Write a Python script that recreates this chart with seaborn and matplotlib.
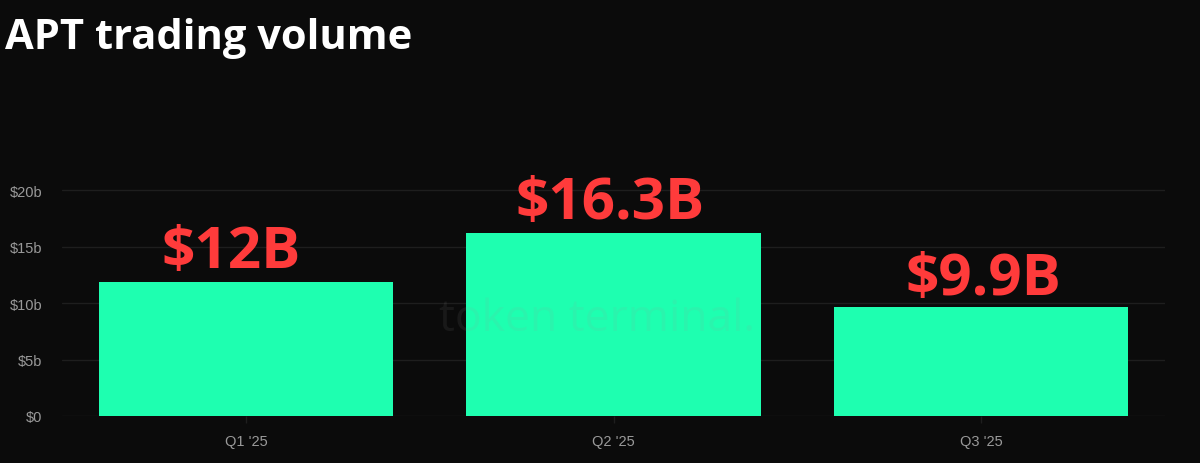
"""
APT trading volume by quarter - bar chart
"""

import pandas as pd
import matplotlib.pyplot as plt
import seaborn as sns

# Data
quarters = ["Q1 '25", "Q2 '25", "Q3 '25"]
volume_b = [11.9, 16.2, 9.7]
value_labels = ["$12B", "$16.3B", "$9.9B"]
y_ticks = [0, 5, 10, 15, 20]
y_tick_labels = ["$0", "$5b", "$10b", "$15b", "$20b"]

BG = "#0b0b0b"
BAR = "#1effb0"
GRID = "#1e1e1e"
TICK = "#9a9a9a"
RED = "#ff3b3b"

sns.set_theme(style="dark")
plt.rcParams['font.family'] = ['Open Sans', 'DejaVu Sans']

df = pd.DataFrame({"quarter": quarters, "volume": volume_b})

fig = plt.figure(figsize=(12, 4.64), dpi=100, facecolor=BG)
ax = fig.add_axes([0.0517, 0.1013, 0.9192, 0.5108])
ax.set_facecolor(BG)

sns.barplot(data=df, x="quarter", y="volume", color=BAR, saturation=1,
            width=0.8, linewidth=0, edgecolor="none", ax=ax, zorder=3)

ax.set_xlim(-0.5, 2.5)
ax.set_ylim(0, 21)
ax.set_yticks(y_ticks)
ax.set_yticklabels(y_tick_labels, family=['Liberation Sans', 'DejaVu Sans'])
ax.set_xticks(range(len(quarters)))
ax.set_xticklabels(quarters, family=['Liberation Sans', 'DejaVu Sans'])
ax.set_xlabel("")
ax.set_ylabel("")

# grid and spines
ax.grid(axis="y", color=GRID, linewidth=1, zorder=0)
ax.grid(axis="x", visible=False)
for s in ax.spines.values():
    s.set_visible(False)
ax.tick_params(axis="y", colors=TICK, labelsize=10.5, length=0, pad=14)
ax.tick_params(axis="x", colors=GRID, labelcolor=TICK, labelsize=10.5,
               length=5, width=1, pad=8, bottom=True)

# watermark
ax.text(0.955, 8.6, "token terminal.", color="#9a9a9a", alpha=0.1,
        fontsize=32, fontweight="medium", ha="center", va="center", zorder=4)

# big red value labels
label_y = [14.5, 18.9, 12.1]
label_x = [-0.04, -0.01, 0.005]
for i, txt in enumerate(value_labels):
    ax.text(i + label_x[i], label_y[i], txt, color=RED, fontsize=42,
            fontweight="bold", ha="center", va="center", zorder=5, clip_on=False)

# title
fig.text(0.004, 0.918, "APT trading volume", color="white", fontsize=30,
         fontweight="bold", ha="left", va="center")

fig.savefig("out.png", dpi=100, facecolor=BG)
